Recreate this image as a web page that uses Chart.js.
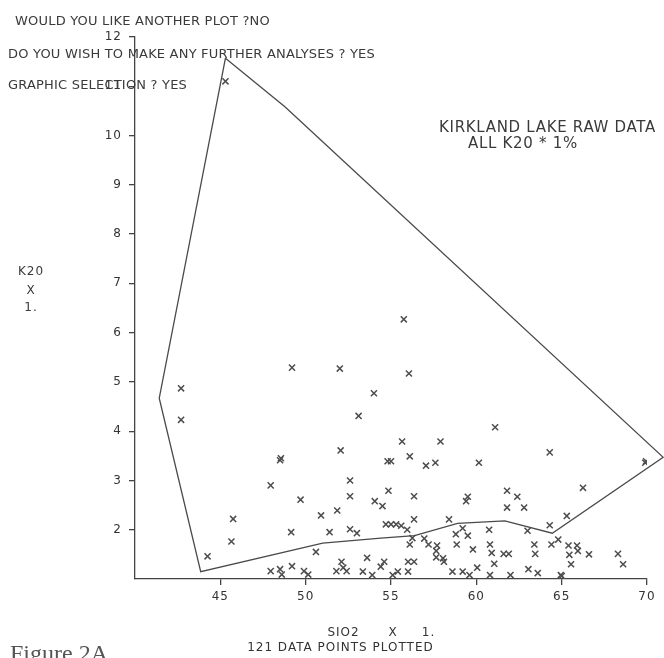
<!DOCTYPE html>
<html>
<head>
<meta charset="utf-8">
<script src="https://cdn.jsdelivr.net/npm/chart.js@4.4.0/dist/chart.umd.min.js"></script>
<style>
  html, body { margin: 0; padding: 0; background: #fff; }
  #wrap { position: relative; width: 664px; height: 658px; overflow: hidden; }
  #wrap canvas { position: absolute; left: 0; top: 0; }
  .txt { position: absolute; font-family: 'DejaVu Sans', sans-serif; color: #3a3a3a; white-space: pre; line-height: 1; }
  .prompt { font-size: 13px; letter-spacing: 0.2px; }
  .note { font-size: 15px; letter-spacing: 0.7px; }
  .ylab { font-size: 12px; letter-spacing: 1px; text-align: center; width: 40px; }
  .fig { position: absolute; left: 10px; top: 641px; font-family: 'Liberation Serif', 'DejaVu Serif', serif; font-size: 24px; color: #555; line-height: 1; white-space: pre; }
</style>
</head>
<body>
<div id="wrap">
  <canvas id="plot" width="664" height="658"></canvas>
  <div class="txt prompt" style="left:15px;top:14px">WOULD YOU LIKE ANOTHER PLOT ?NO</div>
  <div class="txt prompt" style="left:8px;top:47px">DO YOU WISH TO MAKE ANY FURTHER ANALYSES ? YES</div>
  <div class="txt prompt" style="left:8px;top:78px">GRAPHIC SELECTION ? YES</div>
  <div class="txt note" style="left:439px;top:120px">KIRKLAND LAKE RAW DATA</div>
  <div class="txt note" style="left:468px;top:136px">ALL K20 * 1%</div>
  <div class="txt ylab" style="left:11px;top:265px">K20</div>
  <div class="txt ylab" style="left:11px;top:284px">X</div>
  <div class="txt ylab" style="left:11px;top:301px">1.</div>
  <div class="fig">Figure 2A</div>
</div>
<script>
// samples (wt %)
const siO2 = [45.3, 42.7, 42.7, 49.2, 52.0, 54.0, 53.1, 52.05, 48.5, 48.55,
  47.95, 49.7, 52.6, 52.6, 51.85, 50.9, 54.05, 45.75, 45.65, 44.25,
  49.15, 51.4, 52.6, 53.0, 50.6, 47.95, 48.5, 48.6, 49.2, 49.9,
  50.15, 51.8, 52.1, 52.2, 52.4, 53.35, 53.6, 53.9, 54.4, 54.6,
  55.75, 56.05, 55.65, 57.9, 54.8, 55.0, 56.1, 57.05, 57.6, 54.85,
  56.35, 54.5, 54.7, 55.0, 55.3, 55.6, 56.35, 55.95, 56.25, 56.1,
  56.95, 57.2, 57.7, 57.65, 58.4, 57.65, 58.05, 58.1, 55.1, 55.4,
  56.0, 56.35, 56.0, 64.3, 60.15, 59.5, 59.4, 61.8, 62.4, 61.8,
  62.8, 59.2, 58.8, 59.5, 60.75, 63.0, 64.3, 58.85, 59.8, 60.8,
  60.9, 61.6, 61.9, 61.05, 63.4, 63.45, 64.4, 64.8, 58.6, 59.2,
  59.6, 60.05, 60.8, 62.0, 63.05, 63.6, 64.95, 69.9, 69.95, 66.25,
  65.3, 65.4, 65.9, 65.45, 65.95, 66.6, 68.3, 68.6, 65.55, 65.0, 61.1];
const k2O = [11.1, 4.87, 4.23, 5.29, 5.27, 4.77, 4.31, 3.61, 3.41, 3.45,
  2.90, 2.61, 3.0, 2.68, 2.39, 2.29, 2.58, 2.22, 1.76, 1.46,
  1.95, 1.95, 2.01, 1.93, 1.55, 1.16, 1.20, 1.09, 1.26, 1.16,
  1.09, 1.16, 1.35, 1.23, 1.16, 1.15, 1.43, 1.08, 1.25, 1.35,
  6.27, 5.17, 3.79, 3.79, 3.39, 3.39, 3.49, 3.30, 3.36, 2.79,
  2.68, 2.48, 2.11, 2.11, 2.11, 2.08, 2.21, 2.0, 1.83, 1.70,
  1.82, 1.70, 1.68, 1.57, 2.21, 1.44, 1.42, 1.35, 1.08, 1.15,
  1.35, 1.35, 1.15, 3.57, 3.36, 2.67, 2.58, 2.79, 2.67, 2.45,
  2.45, 2.03, 1.91, 1.88, 2.0, 1.98, 2.09, 1.70, 1.60, 1.70,
  1.53, 1.51, 1.51, 1.31, 1.70, 1.51, 1.70, 1.80, 1.15, 1.15,
  1.08, 1.23, 1.08, 1.08, 1.20, 1.12, 1.08, 3.36, 3.39, 2.85,
  2.28, 1.68, 1.68, 1.49, 1.57, 1.50, 1.51, 1.30, 1.30, 1.06, 4.08];

// hand drawn envelope round the data
const hullSiO2 = [45.3, 48.8, 70.95, 64.45, 61.67, 58.9, 56.38, 54.4, 51.0, 43.85, 41.42, 45.3];
const hullK2O = [11.57, 10.58, 3.47, 1.93, 2.18, 2.13, 1.88, 1.83, 1.73, 1.15, 4.67, 11.57];

const xTicks = [45, 50, 55, 60, 65, 70];
const yTicks = [2, 3, 4, 5, 6, 7, 8, 9, 10, 11, 12];

const ink = '#444';
const tickFont = { family: 'DejaVu Sans', size: 12 };

// plotter lettering is widely spaced
const spacing = {
  id: 'spacing',
  beforeLayout(chart) { chart.ctx.letterSpacing = '1px'; },
  beforeDraw(chart) { chart.ctx.letterSpacing = '1px'; }
};

new Chart(document.getElementById('plot'), {
  type: 'scatter',
  data: {
    datasets: [
      {
        data: hullSiO2.map((x, i) => ({ x, y: hullK2O[i] })),
        showLine: true,
        pointRadius: 0,
        borderColor: '#4a4a4a',
        borderWidth: 1.3,
        tension: 0,
        clip: false
      },
      {
        data: siO2.map((x, i) => ({ x, y: k2O[i] })),
        pointStyle: 'crossRot',
        pointRadius: 4.3,
        borderColor: '#4d4d4d',
        borderWidth: 1.5,
        backgroundColor: '#4d4d4d'
      }
    ]
  },
  options: {
    responsive: false,
    animation: false,
    events: [],
    layout: { padding: { top: 37, right: 17, left: 0, bottom: 0 } },
    plugins: { legend: { display: false }, tooltip: { enabled: false } },
    scales: {
      x: {
        type: 'linear', min: 40, max: 70,
        afterFit: s => { s.height = 79; },
        afterBuildTicks: s => { s.ticks = xTicks.map(v => ({ value: v })); },
        ticks: { color: '#333', font: tickFont, padding: 5, autoSkip: false },
        grid: { drawOnChartArea: false, tickLength: 6, color: ink, lineWidth: 1.3 },
        border: { color: ink, width: 1.3 },
        title: {
          display: true,
          text: ['SIO2      X     1.    ', '121 DATA POINTS PLOTTED                     '],
          color: '#333',
          font: { family: 'DejaVu Sans', size: 12, lineHeight: 1.25 },
          padding: { top: 0, bottom: 2.5 }
        }
      },
      y: {
        type: 'linear', min: 1, max: 12,
        afterFit: s => { s.width = 135; },
        afterBuildTicks: s => { s.ticks = yTicks.map(v => ({ value: v })); },
        ticks: { color: '#333', font: tickFont, padding: 7, autoSkip: false },
        grid: { drawOnChartArea: false, tickLength: 6, color: ink, lineWidth: 1.3 },
        border: { color: ink, width: 1.3 }
      }
    }
  },
  plugins: [spacing]
});
</script>
</body>
</html>
